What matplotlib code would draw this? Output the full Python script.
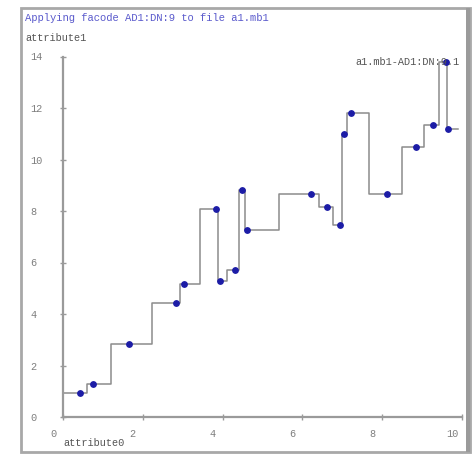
import numpy as np
import matplotlib
matplotlib.use("Agg")
import matplotlib.pyplot as plt
from matplotlib.patches import Rectangle
from matplotlib.transforms import ScaledTranslation

# Sample values (attribute0 -> attribute1)
attr0 = [0.43, 0.75, 1.65, 2.83, 3.03, 3.83, 3.93, 4.31, 4.49, 4.61,
         6.21, 6.61, 6.94, 7.04, 7.22, 8.12, 8.85, 9.27, 9.60, 9.65]
attr1 = [0.92, 1.28, 2.83, 4.43, 5.17, 8.08, 5.28, 5.71, 8.82, 7.26,
         8.66, 8.16, 7.46, 10.99, 11.81, 8.66, 10.49, 11.34, 13.79, 11.18]
x_start, x_end = 0.0, 9.9
x_ticks = [0, 2, 4, 6, 8, 10]
y_ticks = [0, 2, 4, 6, 8, 10, 12, 14]

title_text = "Applying facode AD1:DN:9 to file a1.mb1"
series_name = "a1.mb1-AD1:DN:9.1"
x_name = "attribute0"
y_name = "attribute1"

W, H, DPI = 472, 454, 100
fig = plt.figure(figsize=(W / DPI, H / DPI), dpi=DPI)
fig.patch.set_facecolor("white")
mono = "Liberation Mono"

def px(x, y):
    return x / W, 1 - y / H

# window frame
fig.add_artist(Rectangle(px(21, 452), 449 / W, 444 / H, transform=fig.transFigure,
                         facecolor="white", edgecolor="#a8a8a8", lw=2, zorder=0))
fig.add_artist(Rectangle(px(466, 452), 4 / W, 444 / H, transform=fig.transFigure,
                         facecolor="#9a9a9a", edgecolor="none", zorder=10))

x0, y0 = px(63, 417)
x1, y1 = px(462, 56.5)
ax = fig.add_axes([x0, y0, x1 - x0, y1 - y0])
ax.set_facecolor("none")
ax.set_xlim(0, 10)
ax.set_ylim(0, 14)
for s in ("top", "right"):
    ax.spines[s].set_visible(False)
for s in ("left", "bottom"):
    ax.spines[s].set_color("#9a9a9a")
    ax.spines[s].set_linewidth(1.6)

ax.set_xticks(x_ticks)
ax.set_yticks(y_ticks)
ax.tick_params(axis="both", direction="inout", length=5, width=1, color="#9a9a9a",
               labelcolor="#7e7e7e", labelsize=7.4)
ax.tick_params(axis="y", pad=21)
ax.tick_params(axis="x", pad=6)
for lbl in ax.get_yticklabels():
    lbl.set_ha("left")
    lbl.set_family(mono)
off = ScaledTranslation(-10 / DPI, 0, fig.dpi_scale_trans)
for lbl in ax.get_xticklabels():
    lbl.set_family(mono)
    lbl.set_transform(lbl.get_transform() + off)

# step line with level changes halfway between samples
xs = np.concatenate([[x_start], attr0, [x_end]])
ys = np.concatenate([[attr1[0]], attr1, [attr1[-1]]])
ax.plot(xs, ys, drawstyle="steps-mid", color="#8c8c8c", lw=1.1, zorder=2, clip_on=False)
ax.plot(attr0, attr1, "o", color="#1c1ca6", ms=3.9, zorder=3, clip_on=False)

fig.text(*px(25, 18), title_text, family=mono, fontsize=7.6, color="#5a5acc", va="center")
fig.text(*px(25, 38), y_name, family=mono, fontsize=7.4, color="#555555", va="center")
fig.text(*px(63, 443), x_name, family=mono, fontsize=7.4, color="#555555", va="center")
fig.text(*px(355, 62), series_name, family=mono, fontsize=7.4, color="#555555", va="center", zorder=5)

fig.savefig("out.png", dpi=DPI, facecolor="white")
